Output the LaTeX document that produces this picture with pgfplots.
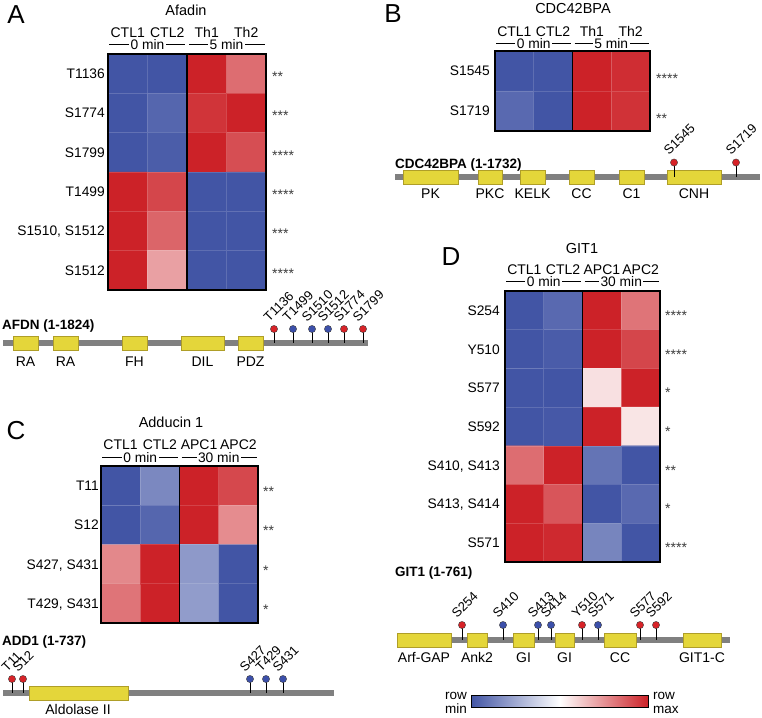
\documentclass[border=0pt]{standalone}
\usepackage{pgfplots}
\pgfplotsset{compat=1.18}
\usepackage{fontspec}
\setmainfont{Liberation Sans}
\newcommand{\fs}[1]{\fontsize{#1}{#1}\selectfont}
\definecolor{domyellow}{RGB}{228,214,58}
\definecolor{domedge}{RGB}{175,158,40}
\definecolor{bbgray}{RGB}{128,128,128}
\definecolor{lolred}{RGB}{215,35,40}
\definecolor{lolblue}{RGB}{60,80,170}
\definecolor{stargray}{RGB}{60,60,60}
\begin{document}
\begin{tikzpicture}[x=1pt,y=1pt]
\begin{axis}[at={(0pt,0pt)}, anchor=south west, scale only axis,
  width=762pt, height=717pt, xmin=0, xmax=762, ymin=0, ymax=717,
  y dir=reverse, hide axis, clip=false,
  colormap={bwr}{rgb255=(66,85,165) rgb255=(255,255,255) rgb255=(204,34,40)},
  point meta min=-1, point meta max=1]

% ================= Panel A heatmap =================
\addplot[matrix plot*, mesh/cols=4, point meta=explicit] table[meta=c] {
x y c
127.75 73.67 -1
167.25 73.67 -1
206.75 73.67 1
246.25 73.67 0.66
127.75 113 -1
167.25 113 -0.9
206.75 113 0.92
246.25 113 1
127.75 152.33 -1
167.25 152.33 -0.95
206.75 152.33 1
246.25 152.33 0.8
127.75 191.67 1
167.25 191.67 0.84
206.75 191.67 -1
246.25 191.67 -1
127.75 231 1
167.25 231 0.7
206.75 231 -1
246.25 231 -1
127.75 270.33 1
167.25 270.33 0.43
206.75 270.33 -1
246.25 270.33 -1
};
\draw[white, opacity=0.15, line width=0.6pt] (axis cs:147.5,54)--(axis cs:147.5,290) (axis cs:226.5,54)--(axis cs:226.5,290)
  (axis cs:108,93.3)--(axis cs:266,93.3) (axis cs:108,132.7)--(axis cs:266,132.7) (axis cs:108,172)--(axis cs:266,172)
  (axis cs:108,211.3)--(axis cs:266,211.3) (axis cs:108,250.7)--(axis cs:266,250.7);
\draw[line width=2.3pt] (axis cs:108,54) rectangle (axis cs:266,290);
\draw[line width=1.6pt] (axis cs:187,54) -- (axis cs:187,290);

% ================= Panel B heatmap =================
\addplot[matrix plot*, mesh/cols=4, point meta=explicit] table[meta=c] {
x y c
514.4 71 -1
553.1 71 -1
591.9 71 1
630.6 71 0.95
514.4 111 -0.88
553.1 111 -1
591.9 111 1
630.6 111 0.93
};
\draw[white, opacity=0.15, line width=0.6pt] (axis cs:533.75,51)--(axis cs:533.75,131) (axis cs:611.25,51)--(axis cs:611.25,131)
  (axis cs:495,91)--(axis cs:650,91);
\draw[line width=2.3pt] (axis cs:495,51) rectangle (axis cs:650,131);
\draw[line width=1.6pt] (axis cs:572.5,51) -- (axis cs:572.5,131);

% ================= Panel C heatmap =================
\addplot[matrix plot*, mesh/cols=4, point meta=explicit] table[meta=c] {
x y c
120.6 485.6 -1
159.9 485.6 -0.7
199.1 485.6 1
238.4 485.6 0.83
120.6 524.9 -1
159.9 524.9 -0.9
199.1 524.9 1
238.4 524.9 0.52
120.6 564.1 0.54
159.9 564.1 1
199.1 564.1 -0.6
238.4 564.1 -1
120.6 603.4 0.63
159.9 603.4 1
199.1 603.4 -0.58
238.4 603.4 -1
};
\draw[white, opacity=0.15, line width=0.6pt] (axis cs:140.25,466)--(axis cs:140.25,623) (axis cs:218.75,466)--(axis cs:218.75,623)
  (axis cs:101,505.25)--(axis cs:258,505.25) (axis cs:101,544.5)--(axis cs:258,544.5) (axis cs:101,583.75)--(axis cs:258,583.75);
\draw[line width=2.3pt] (axis cs:101,466) rectangle (axis cs:258,623);
\draw[line width=1.6pt] (axis cs:179.5,466) -- (axis cs:179.5,623);

% ================= Panel D heatmap =================
\addplot[matrix plot*, mesh/cols=4, point meta=explicit] table[meta=c] {
x y c
524.4 310.4 -1
563.1 310.4 -0.88
601.9 310.4 1
640.6 310.4 0.63
524.4 349.1 -1
563.1 349.1 -0.96
601.9 349.1 1
640.6 349.1 0.84
524.4 387.8 -1
563.1 387.8 -1
601.9 387.8 0.14
640.6 387.8 1
524.4 426.5 -1
563.1 426.5 -0.98
601.9 426.5 1
640.6 426.5 0.12
524.4 465.2 0.66
563.1 465.2 1
601.9 465.2 -0.82
640.6 465.2 -1
524.4 504.0 1
563.1 504.0 0.77
601.9 504.0 -1
640.6 504.0 -0.88
524.4 542.6 1
563.1 542.6 0.97
601.9 542.6 -0.72
640.6 542.6 -1
};
\draw[white, opacity=0.15, line width=0.6pt] (axis cs:543.75,291)--(axis cs:543.75,562) (axis cs:621.25,291)--(axis cs:621.25,562)
  (axis cs:505,329.7)--(axis cs:660,329.7) (axis cs:505,368.4)--(axis cs:660,368.4) (axis cs:505,407.1)--(axis cs:660,407.1)
  (axis cs:505,445.9)--(axis cs:660,445.9) (axis cs:505,484.6)--(axis cs:660,484.6) (axis cs:505,523.3)--(axis cs:660,523.3);
\draw[line width=2.3pt] (axis cs:505,291) rectangle (axis cs:660,562);
\draw[line width=1.6pt] (axis cs:582.5,291) -- (axis cs:582.5,562);

% ================= Colour bar =================
\addplot[surf, shader=interp, mesh/cols=3, point meta=explicit] coordinates {
(471,695) [-1] (559.5,695) [0] (648,695) [1]
(471,707) [-1] (559.5,707) [0] (648,707) [1]
};
\draw[line width=1pt] (axis cs:471,695) rectangle (axis cs:648,707);

% ================= Domain diagrams: backbones =================
\addplot[bbgray, line width=5.5pt, forget plot] coordinates {(3,343) (368,343)};
\addplot[bbgray, line width=5.5pt, forget plot] coordinates {(395,177) (760,177)};
\addplot[bbgray, line width=5.5pt, forget plot] coordinates {(3,693) (334,693)};
\addplot[bbgray, line width=5.5pt, forget plot] coordinates {(397,640) (730,640)};

% ---- domains (boxes) ----
\pgfplotsset{dom/.style={fill=domyellow, draw=domedge, line width=0.6pt}}
% AFDN
\addplot[dom] coordinates {(13,336.5) (38,336.5) (38,350.5) (13,350.5) (13,336.5)};
\addplot[dom] coordinates {(53,336.5) (78,336.5) (78,350.5) (53,350.5) (53,336.5)};
\addplot[dom] coordinates {(122,336.5) (147,336.5) (147,350.5) (122,350.5) (122,336.5)};
\addplot[dom] coordinates {(181,336.5) (224,336.5) (224,350.5) (181,350.5) (181,336.5)};
\addplot[dom] coordinates {(238,336.5) (263,336.5) (263,350.5) (238,350.5) (238,336.5)};
% CDC42BPA
\addplot[dom] coordinates {(403,170) (458,170) (458,184) (403,184) (403,170)};
\addplot[dom] coordinates {(478,170) (502,170) (502,184) (478,184) (478,170)};
\addplot[dom] coordinates {(520,170) (545,170) (545,184) (520,184) (520,170)};
\addplot[dom] coordinates {(569,170) (594,170) (594,184) (569,184) (569,170)};
\addplot[dom] coordinates {(619,170) (644,170) (644,184) (619,184) (619,170)};
\addplot[dom] coordinates {(667,170) (721,170) (721,184) (667,184) (667,170)};
% ADD1
\addplot[dom] coordinates {(29,686.5) (128,686.5) (128,700.5) (29,700.5) (29,686.5)};
% GIT1
\addplot[dom] coordinates {(397,633) (451,633) (451,647) (397,647) (397,633)};
\addplot[dom] coordinates {(467,633) (487,633) (487,647) (467,647) (467,633)};
\addplot[dom] coordinates {(513,633) (534,633) (534,647) (513,647) (513,633)};
\addplot[dom] coordinates {(555,633) (574,633) (574,647) (555,647) (555,633)};
\addplot[dom] coordinates {(604,633) (636,633) (636,647) (604,647) (604,633)};
\addplot[dom] coordinates {(683,633) (721,633) (721,647) (683,647) (683,633)};

% ---- lollipop stems ----
\pgfplotsset{stem/.style={draw=none, mark=none, error bars/.cd, y dir=plus, y explicit, error mark=none,
  error bar style={black, line width=0.8pt}}}
\addplot[stem] coordinates {(274,329) +- (0,14) (293,329) +- (0,14) (312,329) +- (0,14) (328,329) +- (0,14) (344,329) +- (0,14) (363,329) +- (0,14)};
\addplot[stem] coordinates {(674,162.5) +- (0,14.5) (736,162.5) +- (0,14.5)};
\addplot[stem] coordinates {(12,679) +- (0,14) (23,679) +- (0,14) (250,679) +- (0,14) (266,679) +- (0,14) (283,679) +- (0,14)};
\addplot[stem] coordinates {(462,625) +- (0,15) (503,625) +- (0,15) (538,625) +- (0,15) (551,625) +- (0,15) (582,625) +- (0,15) (598,625) +- (0,15) (640,625) +- (0,15) (656,625) +- (0,15)};

% ---- lollipop heads ----
\pgfplotsset{redhead/.style={only marks, mark=*, mark size=3.6pt, mark options={fill=lolred, draw=black!75, line width=0.4pt}},
  bluehead/.style={only marks, mark=*, mark size=3.6pt, mark options={fill=lolblue, draw=black!75, line width=0.4pt}}}
\addplot[redhead] coordinates {(274,329) (344,329) (363,329)};
\addplot[bluehead] coordinates {(293,329) (312,329) (328,329)};
\addplot[redhead] coordinates {(674,162.5) (736,162.5)};
\addplot[redhead] coordinates {(12,679) (23,679)};
\addplot[bluehead] coordinates {(250,679) (266,679) (283,679)};
\addplot[redhead] coordinates {(462,625) (582,625) (640,625) (656,625)};
\addplot[bluehead] coordinates {(503,625) (538,625) (551,625) (598,625)};
\end{axis}

% ================= Text (coordinates: x, 717 - image y) =================
\tikzset{lab/.style={inner sep=0pt}}
% colour bar labels
\node[lab, font=\fs{13.5}, anchor=base east] at (467,{717-699}) {row};
\node[lab, font=\fs{13.5}, anchor=base east] at (467,{717-713}) {min};
\node[lab, font=\fs{13.5}, anchor=base west] at (653,{717-699}) {row};
\node[lab, font=\fs{13.5}, anchor=base west] at (653,{717-713}) {max};

% panel letters
\node[lab, font=\fs{26}, anchor=base] at (16,{717-23.8}) {A};
\node[lab, font=\fs{26}, anchor=base] at (393,{717-22.3}) {B};
\node[lab, font=\fs{26}, anchor=base] at (16,{717-440}) {C};
\node[lab, font=\fs{26}, anchor=base] at (451,{717-266}) {D};

% titles
\node[lab, font=\fs{14.5}, anchor=base] at (186,{717-16}) {Afadin};
\node[lab, font=\fs{14.5}, anchor=base] at (573,{717-13.5}) {CDC42BPA};
\node[lab, font=\fs{14.5}, anchor=base] at (171,{717-428}) {Adducin 1};
\node[lab, font=\fs{14.5}, anchor=base] at (582,{717-254}) {GIT1};

% column labels
\foreach \x/\t in {127.75/CTL1,167.25/CTL2,206.75/Th1,246.25/Th2}
  \node[lab, font=\fs{14}, anchor=base] at (\x,{717-37.5}) {\t};
\foreach \x/\t in {514.4/CTL1,553.1/CTL2,591.9/Th1,630.6/Th2}
  \node[lab, font=\fs{14}, anchor=base] at (\x,{717-36.7}) {\t};
\foreach \x/\t in {120.6/CTL1,159.9/CTL2,199.1/APC1,238.4/APC2}
  \node[lab, font=\fs{14}, anchor=base] at (\x,{717-450}) {\t};
\foreach \x/\t in {524.4/CTL1,563.1/CTL2,601.9/APC1,640.6/APC2}
  \node[lab, font=\fs{14}, anchor=base] at (\x,{717-275}) {\t};

% group (time) labels with rules
\draw[line width=0.8pt] (109,{717-44.5})--(185,{717-44.5}) (189,{717-44.5})--(265,{717-44.5});
\node[font=\fs{13.8}, anchor=base, fill=white, inner sep=1.5pt] at (147.5,{717-49.8}) {0 min};
\node[font=\fs{13.8}, anchor=base, fill=white, inner sep=1.5pt] at (226.5,{717-49.8}) {5 min};
\draw[line width=0.8pt] (496,{717-43})--(570.5,{717-43}) (574.5,{717-43})--(649,{717-43});
\node[font=\fs{13.8}, anchor=base, fill=white, inner sep=1.5pt] at (533.75,{717-48.1}) {0 min};
\node[font=\fs{13.8}, anchor=base, fill=white, inner sep=1.5pt] at (611.25,{717-48.1}) {5 min};
\draw[line width=0.8pt] (102,{717-457.2})--(177.5,{717-457.2}) (181.5,{717-457.2})--(257,{717-457.2});
\node[font=\fs{13.8}, anchor=base, fill=white, inner sep=1.5pt] at (140.25,{717-462.5}) {0 min};
\node[font=\fs{13.8}, anchor=base, fill=white, inner sep=1.5pt] at (218.75,{717-462.5}) {30 min};
\draw[line width=0.8pt] (506,{717-281.2})--(580.5,{717-281.2}) (584.5,{717-281.2})--(659,{717-281.2});
\node[font=\fs{13.8}, anchor=base, fill=white, inner sep=1.5pt] at (543.75,{717-286.5}) {0 min};
\node[font=\fs{13.8}, anchor=base, fill=white, inner sep=1.5pt] at (621.25,{717-286.5}) {30 min};

% row labels
\foreach \y/\t in {73.67/T1136,113/S1774,152.33/S1799,191.67/T1499,231/{S1510, S1512},270.33/S1512}
  \node[lab, font=\fs{13.8}, anchor=base east] at (105,{717-\y-5}) {\t};
\foreach \y/\t in {71/S1545,111/S1719}
  \node[lab, font=\fs{13.8}, anchor=base east] at (490,{717-\y-5}) {\t};
\foreach \y/\t in {485.6/T11,524.9/S12,564.1/{S427, S431},603.4/{T429, S431}}
  \node[lab, font=\fs{13.8}, anchor=base east] at (99,{717-\y-5}) {\t};
\foreach \y/\t in {310.4/S254,349.1/Y510,387.8/S577,426.5/S592,465.2/{S410, S413},504.0/{S413, S414},542.6/S571}
  \node[lab, font=\fs{13.8}, anchor=base east] at (500,{717-\y-5}) {\t};

% significance stars
\foreach \y/\t in {73.67/**,113/***,152.33/****,191.67/****,231/***,270.33/****}
  \node[lab, font=\fs{14}, text=stargray, anchor=base west] at (272,{717-\y-8}) {\t};
\foreach \y/\t in {71/****,111/**}
  \node[lab, font=\fs{14}, text=stargray, anchor=base west] at (656,{717-\y-13}) {\t};
\foreach \y/\t in {485.6/**,524.9/**,564.1/*,603.4/*}
  \node[lab, font=\fs{14}, text=stargray, anchor=base west] at (263,{717-\y-11}) {\t};
\foreach \y/\t in {310.4/****,349.1/****,387.8/*,426.5/*,465.2/**,504.0/*,542.6/****}
  \node[lab, font=\fs{14}, text=stargray, anchor=base west] at (665,{717-\y-10}) {\t};

% protein names
\node[lab, font=\fs{13.5}\bfseries, anchor=base west] at (2,{717-330}) {AFDN (1-1824)};
\node[lab, font=\fs{13.5}\bfseries, anchor=base west] at (395,{717-168.3}) {CDC42BPA (1-1732)};
\node[lab, font=\fs{13.5}\bfseries, anchor=base west] at (2,{717-645}) {ADD1 (1-737)};
\node[lab, font=\fs{13.5}\bfseries, anchor=base west] at (395,{717-576.8}) {GIT1 (1-761)};

% domain labels
\foreach \x/\t in {25.5/RA,65.5/RA,134.5/FH,202.5/DIL,250.5/PDZ}
  \node[lab, font=\fs{14}, anchor=base] at (\x,{717-366.3}) {\t};
\foreach \x/\t in {430.5/PK,490/PKC,532.5/KELK,581.5/CC,631.5/C1,694/CNH}
  \node[lab, font=\fs{14}, anchor=base] at (\x,{717-198.3}) {\t};
\node[lab, font=\fs{14}, anchor=base] at (78,{717-714.5}) {Aldolase II};
\foreach \x/\t in {424/Arf-GAP,477/Ank2,523.5/GI,564.5/GI,620/CC,702/GIT1-C}
  \node[lab, font=\fs{14}, anchor=base] at (\x,{717-662.3}) {\t};

% site labels (rotated)
\foreach \x/\t in {274/T1136,293/T1499,312/S1510,328/S1512,344/S1774,363/S1799}
  \node[lab, font=\fs{13}, rotate=45, anchor=base west] at ({\x-5},{717-322.5}) {\t};
\foreach \x/\t in {674/S1545,736/S1719}
  \node[lab, font=\fs{13}, rotate=45, anchor=base west] at ({\x-5},{717-156}) {\t};
\foreach \x/\t in {12/T11,23/S12,250/S427,266/T429,283/S431}
  \node[lab, font=\fs{13}, rotate=45, anchor=base west] at ({\x-5},{717-672.5}) {\t};
\foreach \x/\t in {462/S254,503/S410,538/S413,551/S414,582/Y510,598/S571,640/S577,656/S592}
  \node[lab, font=\fs{13}, rotate=45, anchor=base west] at ({\x-5},{717-618.5}) {\t};

\pgfresetboundingbox
\path[use as bounding box] (0,0) rectangle (762,717);
\end{tikzpicture}
\end{document}
